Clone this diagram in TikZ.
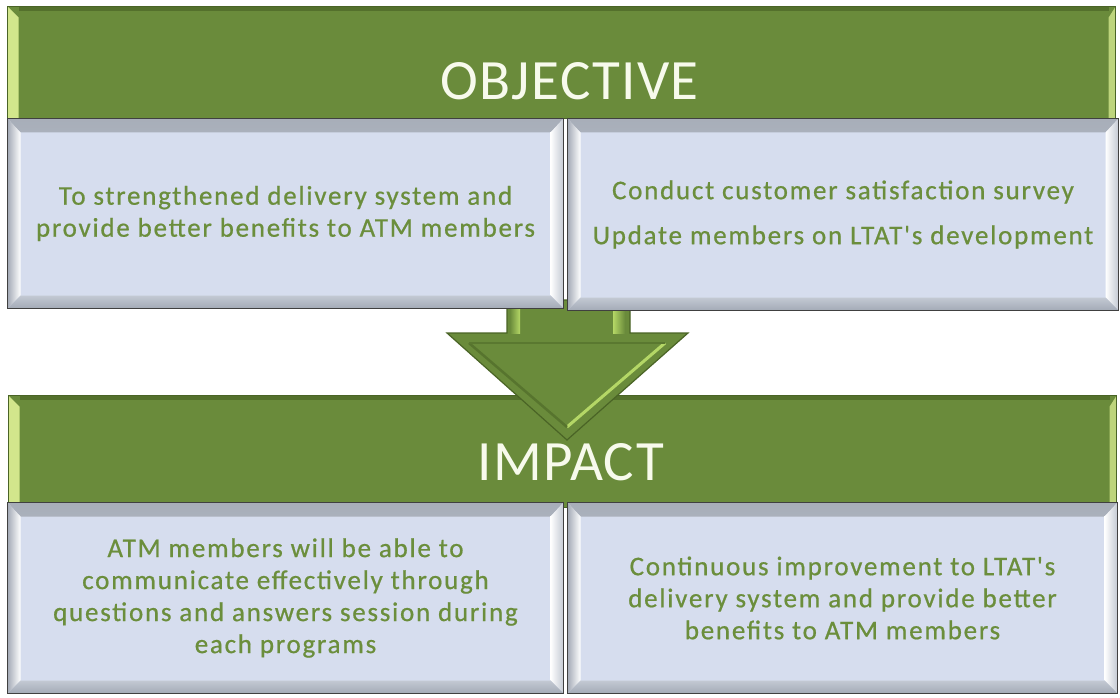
\documentclass[tikz,border=0pt]{standalone}
\usepackage{fontspec}
\setmainfont{Carlito}
\newfontfamily\bodyfont[LetterSpace=6.5,FakeBold=0.7]{Carlito}
\newfontfamily\headfont[LetterSpace=2.5]{Carlito}
\definecolor{bannergreen}{HTML}{6A8B3B}
\definecolor{bannerdark}{HTML}{4A6426}
\definecolor{bannerlight}{HTML}{D2E68C}
\definecolor{boxfill}{HTML}{D6DDEE}
\definecolor{bevtop}{HTML}{B6BDC9}
\definecolor{bevside}{HTML}{C3C9D3}
\definecolor{bevbot}{HTML}{A3AAB6}
\definecolor{textgreen}{HTML}{6B8E3C}
\definecolor{titlewhite}{HTML}{F7FAEC}
\definecolor{arrowlight}{HTML}{B4D766}
\begin{document}
\begin{tikzpicture}[x=1pt,y=-1pt,
  banner/.style={draw=bannerdark, line width=1.2pt, fill=bannergreen,
    inner sep=0pt, anchor=north west, minimum width=1108pt, minimum height=112pt,
    path picture={
      \fill[bannerlight] (path picture bounding box.north west)
        -- ([xshift=11pt,yshift=-11pt]path picture bounding box.north west)
        -- ([xshift=11pt]path picture bounding box.south west)
        -- (path picture bounding box.south west) -- cycle;
      \fill[bannerlight!80!bannergreen] (path picture bounding box.north east)
        -- ([xshift=-7pt,yshift=-11pt]path picture bounding box.north east)
        -- ([xshift=-7pt]path picture bounding box.south east)
        -- (path picture bounding box.south east) -- cycle;
      \fill[bannerdark!70!bannergreen] ([xshift=11pt]path picture bounding box.north west)
        rectangle ([xshift=-7pt,yshift=-4pt]path picture bounding box.north east);
    }},
  title/.style={text=titlewhite, inner sep=0pt, font=\headfont\fontsize{57}{60}\selectfont},
  textbox/.style={draw=black!75, line width=1pt, fill=boxfill, inner sep=0pt,
    anchor=north west, align=center, text=textgreen,
    font=\bodyfont\fontsize{27}{32}\selectfont,
    execute at begin node={\rule{0pt}{33pt}},
    path picture={
      \shade[top color=bevtop!80!black!40!bevtop, bottom color=bevtop!70!white]
        (path picture bounding box.north west)
        -- (path picture bounding box.north east)
        -- ([xshift=-13pt,yshift=-14pt]path picture bounding box.north east)
        -- ([xshift=13pt,yshift=-14pt]path picture bounding box.north west) -- cycle;
      \shade[left color=bevbot, right color=white]
        (path picture bounding box.north west)
        -- ([xshift=13pt,yshift=-14pt]path picture bounding box.north west)
        -- ([xshift=13pt,yshift=13pt]path picture bounding box.south west)
        -- (path picture bounding box.south west) -- cycle;
      \shade[left color=white, right color=bevside]
        (path picture bounding box.north east)
        -- ([xshift=-13pt,yshift=-14pt]path picture bounding box.north east)
        -- ([xshift=-13pt,yshift=13pt]path picture bounding box.south east)
        -- (path picture bounding box.south east) -- cycle;
      \shade[top color=bevside, bottom color=bevbot]
        (path picture bounding box.south west)
        -- ([xshift=13pt,yshift=13pt]path picture bounding box.south west)
        -- ([xshift=-13pt,yshift=13pt]path picture bounding box.south east)
        -- (path picture bounding box.south east) -- cycle;
    }},
  arrowbody/.style={fill=bannergreen, draw=bannerdark, line width=1.2pt, line join=miter}
]
\useasboundingbox (0,0) rectangle (1120,698);
\fill[white] (0,0) rectangle (1120,698);

% Objective banner
\node[banner] (objban) at (7,6) {};
\node[title] (objtitle) at ([xshift=8pt,yshift=-19pt]objban.center) {OBJECTIVE};

% Impact banner
\node[banner] (impban) at (8,395) {};

% Down arrow between the two sections
\coordinate (sl) at (507,300);
\coordinate (sr) at (630,300);
\coordinate (tip) at (567,440);
\draw[arrowbody] (sl) -- (sr) -- (630,333) -- (688,333) -- (tip)
  -- (447,333) -- (507,333) -- cycle;
\shade[left color=bannergreen, right color=arrowlight] (510,300) rectangle (520,333);
\shade[left color=arrowlight, right color=bannergreen] (613,300) rectangle (625,333);
\draw[arrowlight, line width=3pt] (665,343) -- (567,427);
\draw[bannerdark!60!bannergreen, line width=2.5pt] (469,343) -- (567,427);
\draw[bannerdark!50!bannergreen, line width=2pt] (469,343) -- (665,343);

\node[title] (imptitle) at ([xshift=8pt,yshift=-11pt]impban.center) {IMPACT};

% Objective boxes
\node[textbox, minimum width=556pt, minimum height=190pt] (objL) at (7,118)
  {To strengthened delivery system and\\provide better benefits to ATM members};
\node[textbox, minimum width=551pt, minimum height=192pt] (objR) at (567,118)
  {Conduct customer satisfaction survey\\[13pt]Update members on LTAT's development};

% Impact boxes
\node[textbox, minimum width=556pt, minimum height=191pt] (impL) at (7,502)
  {ATM members will be able to\\communicate effectively through\\questions and answers session during\\each programs};
\node[textbox, minimum width=550pt, minimum height=191pt] (impR) at (567,502)
  {Continuous improvement to LTAT's\\delivery system and provide better\\benefits to ATM members};
\end{tikzpicture}
\end{document}
